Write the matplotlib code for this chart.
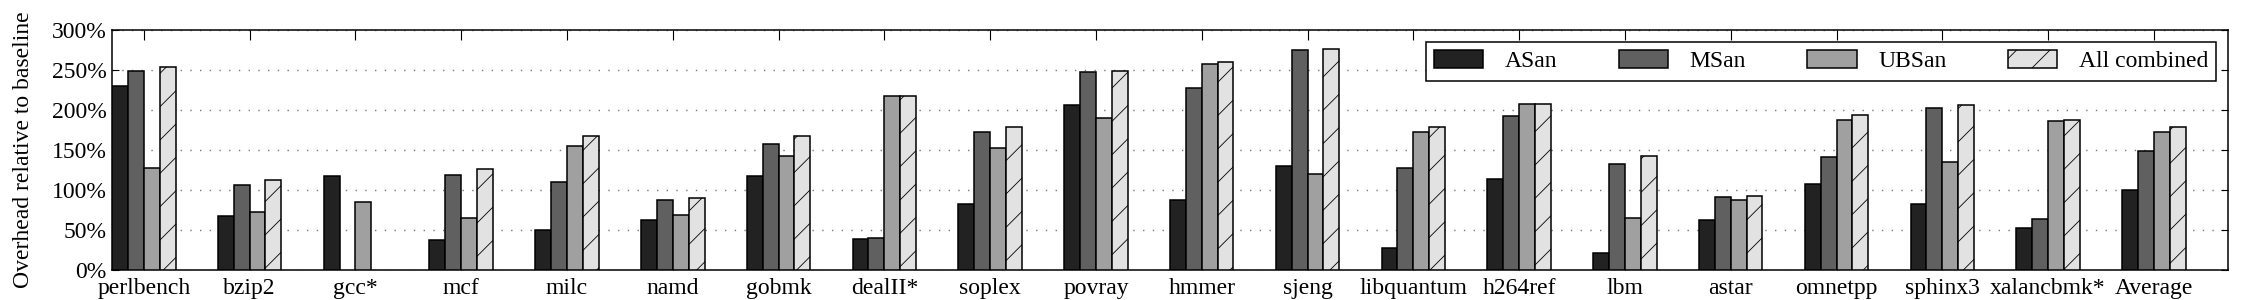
import numpy as np
import matplotlib
matplotlib.use("Agg")
import matplotlib.pyplot as plt

# benchmark names (x axis)
benchmarks = ["perlbench", "bzip2", "gcc*", "mcf", "milc", "namd", "gobmk",
              "dealII*", "soplex", "povray", "hmmer", "sjeng", "libquantum",
              "h264ref", "lbm", "astar", "omnetpp", "sphinx3", "xalancbmk*",
              "Average"]

# overhead in percent (nan = no bar)
asan = [230, 67, 117, 38, 50, 63, 117, 39, 82, 206, 88, 130, 27, 114, 21,
        63, 107, 83, 52, 100]
msan = [249, 106, np.nan, 119, 110, 88, 158, 40, 173, 247, 228, 275, 128,
        192, 132, 91, 141, 202, 64, 149]
ubsan = [128, 73, 85, 65, 155, 69, 142, 217, 152, 190, 258, 120, 173, 208,
         65, 87, 187, 135, 186, 173]
combined = [254, 113, np.nan, 126, 167, 90, 167, 217, 179, 249, 260, 276,
            179, 208, 142, 93, 194, 206, 188, 179]

series_names = ["ASan", "MSan", "UBSan", "All combined"]
yticks = [0, 50, 100, 150, 200, 250, 300]

plt.rcParams['font.family'] = ['Liberation Serif', 'DejaVu Serif']
plt.rcParams['font.size'] = 17
plt.rcParams['hatch.color'] = '#555555'
plt.rcParams['hatch.linewidth'] = 0.6

fig = plt.figure(figsize=(22.5, 3.0), dpi=100)
ax = fig.add_axes([0.0498, 0.1, 0.9404, 0.8])

x = np.arange(len(benchmarks))
w = 0.15
colors = ['#222222', '#606060', '#a0a0a0', '#e2e2e2']
hatches = [None, None, None, '/']
for i, vals in enumerate([asan, msan, ubsan, combined]):
    ax.bar(x + (i - 1.5) * w, vals, w, color=colors[i], edgecolor='black',
           linewidth=1.1, hatch=hatches[i], label=series_names[i], zorder=3)

ax.set_xlim(-0.3, len(benchmarks) - 0.3)
ax.set_ylim(0, 300)
ax.set_yticks(yticks)
ax.set_yticklabels(["%d%%" % v for v in yticks])
ax.set_xticks(x)
ax.set_xticklabels(benchmarks)
ax.tick_params(direction='in', top=True, right=True, length=7, width=0.8)
ax.tick_params(axis='y', length=5, pad=4)
ax.tick_params(axis='x', pad=6)
for s in ax.spines.values():
    s.set_linewidth(1.1)

ax.yaxis.grid(True, color='#777777', linestyle=(0, (1, 6)), linewidth=1.0)
ax.set_axisbelow(True)

fig.text(0.0105, 0.5, "Overhead relative to baseline", rotation=90,
         ha='center', va='center')

leg = ax.legend(loc='upper right', ncol=4, fancybox=False, framealpha=1,
                edgecolor='black', handlelength=2.1, handleheight=0.8,
                handletextpad=0.9, columnspacing=2.6, borderpad=0.35,
                borderaxespad=0.5)
leg.get_frame().set_linewidth(1.1)

fig.savefig("out.png", dpi=100)
